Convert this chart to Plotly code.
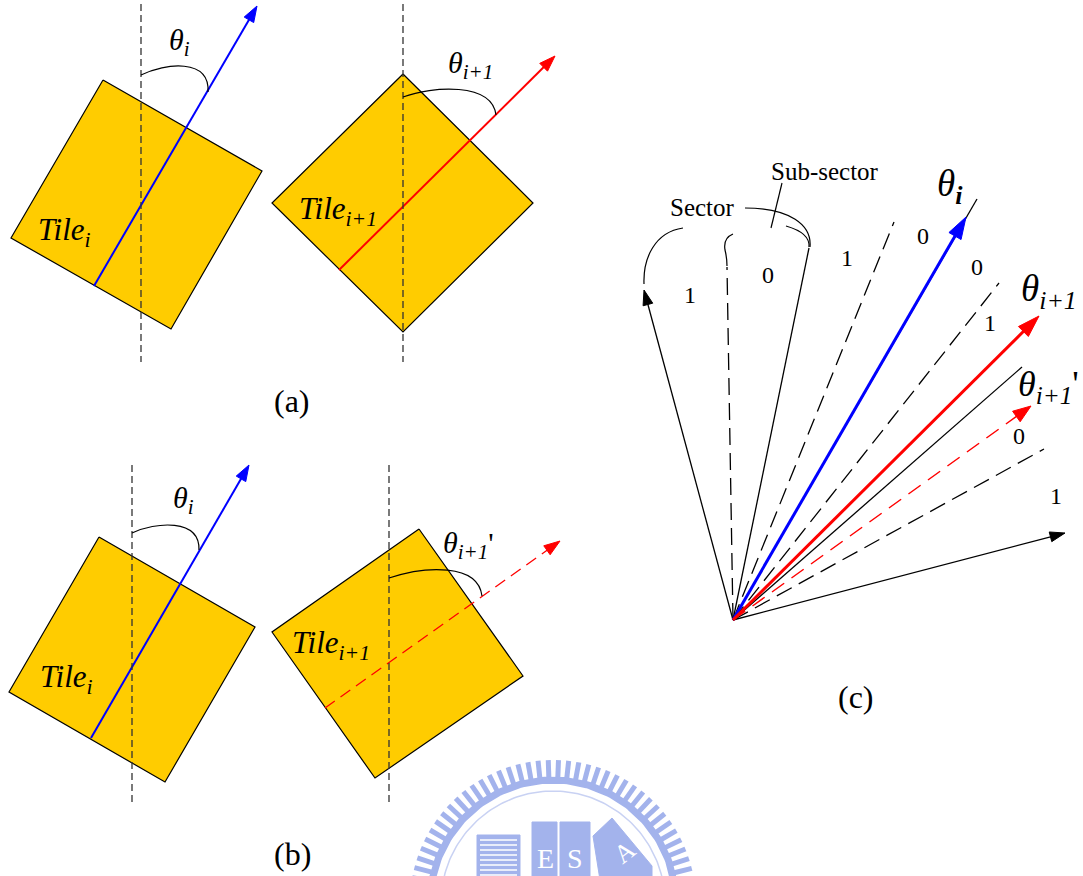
import numpy as np
import plotly.graph_objects as go

W, H = 1083, 876
FONT = "Liberation Serif"
TILE_FILL = "#FFCC00"
BLUE = "#0000FF"
RED = "#FF0000"
WM = "#a3b3ec"

# ---- panel (a) / (b) geometry -------------------------------------------
tile_a_left = [(103, 80), (262, 171), (171, 329), (11, 238)]
tile_a_right = [(403, 74), (533, 203), (403, 332), (272, 203)]
tile_b_left = [(99, 537), (255, 627), (165, 782), (9, 692)]
tile_b_right = [(419, 529), (523, 676), (375, 778), (272, 632)]

# vertical reference lines: x, top, bottom
ref_lines = [(141, 4, 362), (403, 4, 362), (132, 465, 805), (389, 465, 805)]

# tile direction arrows: start, tip
arrow_a_i = [(94, 286), (257, 6)]
arrow_a_i1 = [(339, 270), (555, 56)]
arrow_b_i = [(91, 738), (249, 465)]
arrow_b_i1p = [(325, 708), (560, 541)]

# angle marks (cubic curves): start, c1, c2, end
arc_a_i = [(141, 75), (165, 63), (210, 58), (208, 92)]
arc_a_i1 = [(403, 97), (432, 86), (492, 82), (496, 115)]
arc_b_i = [(132, 533), (155, 522), (200, 518), (199, 550)]
arc_b_i1p = [(389, 578), (425, 566), (478, 563), (482, 596)]

# ---- panel (c) geometry --------------------------------------------------
origin_c = (733, 620)
ray_end_x = [644, 727, 809, 894, 977, 999, 1022, 1044, 1065]
ray_end_y = [290, 267, 248, 222, 199, 283, 367, 449, 533]
ray_kind = ["arrow", "dash", "solid", "dash", "solid", "dash", "solid", "dash", "arrow"]
tip_theta_i = (966, 217)
tip_theta_i1 = (1039, 316)
tip_theta_i1p = (1031, 406)

bit_x = [690, 768, 847, 923, 977, 990, 1019, 1056]
bit_y = [295, 275, 258, 236, 267, 323, 436, 496]
bit_text = ["1", "0", "1", "0", "0", "1", "0", "1"]

brace_paths = [
    "M683,228 C655,232 643,258 644,284",              # sector, left side
    "M745,208 C790,208 812,225 810,247",              # sector, right side
    "M733,234 Q723,238 725,250 Q727,258 727,266",     # sub-sector, left side
    "M786,226 C800,230 810,236 809,247",              # sub-sector, right side
    "M782,183 L771,228",                              # sub-sector leader
]

fig = go.Figure()


def line(xs, ys, color="black", width=1.2, dash=None):
    fig.add_trace(go.Scatter(x=xs, y=ys, mode="lines", hoverinfo="skip",
                             line=dict(color=color, width=width, dash=dash)))


def polygon(pts, fill, outline="black", width=1.2):
    xs = [p[0] for p in pts] + [pts[0][0]]
    ys = [p[1] for p in pts] + [pts[0][1]]
    fig.add_trace(go.Scatter(x=xs, y=ys, mode="lines", fill="toself", fillcolor=fill,
                             hoverinfo="skip", line=dict(color=outline, width=width)))


def arrow(p0, p1, color, width, head_len, head_w, dash=None):
    a, b = np.array(p0, float), np.array(p1, float)
    u = (b - a) / np.linalg.norm(b - a)
    n = np.array([-u[1], u[0]])
    base = b - u * head_len
    end = base + u * 1.0
    line([a[0], end[0]], [a[1], end[1]], color, width, dash)
    tri = [tuple(b), tuple(base + n * head_w / 2), tuple(base - n * head_w / 2)]
    polygon(tri, color, outline=color, width=1)


def arc(c):
    (x0, y0), (x1, y1), (x2, y2), (x3, y3) = c
    fig.add_shape(type="path", path=f"M{x0},{y0} C{x1},{y1} {x2},{y2} {x3},{y3}",
                  line=dict(color="black", width=1.2), layer="above")


def label(x, y, text, size, xanchor="left", yanchor="middle", angle=0, color="black"):
    fig.add_annotation(x=x, y=y, text=text, showarrow=False, xanchor=xanchor, yanchor=yanchor,
                       textangle=angle, font=dict(family=FONT, size=size, color=color))


# ---- watermark emblem (drawn first, underneath) -------------------------
wm_cx, wm_cy = 553, 903
ang = np.deg2rad(np.arange(182, 360, 4.1))
tx, ty = [], []
for a in ang:
    tx += [wm_cx + 125 * np.cos(a), wm_cx + 143 * np.cos(a), None]
    ty += [wm_cy + 125 * np.sin(a), wm_cy + 143 * np.sin(a), None]
line(tx, ty, WM, 5)
band = np.deg2rad(np.linspace(180, 360, 120))
line(list(wm_cx + 123 * np.cos(band)), list(wm_cy + 123 * np.sin(band)), WM, 7)
line(list(wm_cx + 112 * np.cos(band)), list(wm_cy + 112 * np.sin(band)), "#c9d2f3", 1.5)
polygon([(477, 835), (520, 835), (520, 880), (477, 880)], WM, outline=WM, width=1)
stripe_y = list(range(840, 880, 5))
sx, sy = [], []
for yy in stripe_y:
    sx += [480, 517, None]
    sy += [yy, yy, None]
line(sx, sy, "white", 1.5)
polygon([(532, 822), (557, 822), (557, 880), (532, 880)], WM, outline=WM, width=1)
polygon([(560, 822), (590, 822), (590, 880), (560, 880)], WM, outline=WM, width=1)
polygon([(593, 836), (612, 818), (652, 866), (652, 880), (600, 880)], WM, outline=WM, width=1)
label(545, 858, "E", 28, xanchor="center", color="white")
label(575, 858, "S", 28, xanchor="center", color="white")
label(624, 852, "A", 26, xanchor="center", angle=-38, color="white")

# ---- panels (a) and (b) ---------------------------------------------------
for t in (tile_a_left, tile_a_right, tile_b_left, tile_b_right):
    polygon(t, TILE_FILL)

arrow(*arrow_a_i, BLUE, 2, 16, 11)
arrow(*arrow_a_i1, RED, 2, 16, 11)
arrow(*arrow_b_i, BLUE, 2, 16, 11)
arrow(*arrow_b_i1p, RED, 1.3, 16, 11, dash="12px,7px")

for x, y0, y1 in ref_lines:
    line([x, x], [y0, y1], "#333333", 1.3, "7px,4px")

for c in (arc_a_i, arc_a_i1, arc_b_i, arc_b_i1p):
    arc(c)

label(167, 42, "<i>θ</i><sub><i>i</i></sub>", 30)
label(446, 65, "<i>θ</i><sub><i>i+1</i></sub>", 30)
label(36, 232, "<i>Tile</i><sub><i>i</i></sub>", 31)
label(297, 211, "<i>Tile</i><sub><i>i+1</i></sub>", 31)
label(292, 401, "(a)", 32, xanchor="center")

label(171, 500, "<i>θ</i><sub><i>i</i></sub>", 30)
label(441, 545, "<i>θ</i><sub><i>i+1</i></sub>'", 30)
label(38, 679, "<i>Tile</i><sub><i>i</i></sub>", 31)
label(290, 645, "<i>Tile</i><sub><i>i+1</i></sub>", 31)
label(292, 854, "(b)", 32, xanchor="center")

# ---- panel (c) -------------------------------------------------------------
ox, oy = origin_c
for ex, ey, kind in zip(ray_end_x, ray_end_y, ray_kind):
    if kind == "arrow":
        arrow((ox, oy), (ex, ey), "black", 1.3, 15, 10)
    elif kind == "dash":
        line([ox, ex], [oy, ey], "black", 1.3, "17px,8px")
    else:
        line([ox, ex], [oy, ey], "black", 1.3)

arrow(origin_c, tip_theta_i, BLUE, 3, 22, 14)
arrow(origin_c, tip_theta_i1, RED, 3, 22, 14)
arrow(origin_c, tip_theta_i1p, RED, 1.5, 18, 13, dash="15px,9px")

for p in brace_paths:
    fig.add_shape(type="path", path=p, line=dict(color="black", width=1.2))

for x, y, t in zip(bit_x, bit_y, bit_text):
    label(x, y, t, 24, xanchor="center")

label(825, 171, "Sub-sector", 25, xanchor="center")
label(702, 207, "Sector", 25, xanchor="center")
label(935, 186, "<i>θ</i><sub><b><i>i</i></b></sub>", 37)
label(1019, 291, "<i>θ</i><sub><i>i+1</i></sub>", 37)
label(1016, 386, "<i>θ</i><sub><i>i+1</i></sub>'", 36)
label(856, 697, "(c)", 32, xanchor="center")

fig.update_layout(
    width=W, height=H, margin=dict(l=0, r=0, t=0, b=0),
    paper_bgcolor="white", plot_bgcolor="white", showlegend=False,
    xaxis=dict(range=[0, W], visible=False, fixedrange=True),
    yaxis=dict(range=[H, 0], visible=False, fixedrange=True),
)
fig.write_html("out.html")
